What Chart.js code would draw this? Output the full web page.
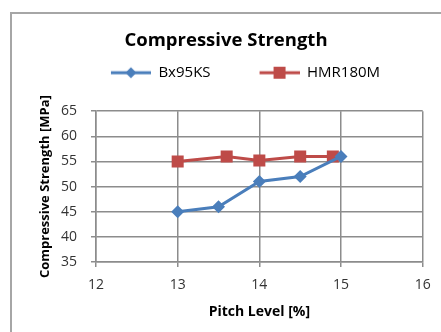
<!DOCTYPE html>
<html>
<head>
<meta charset="utf-8">
<script src="https://cdn.jsdelivr.net/npm/chart.js@4.4.1/dist/chart.umd.min.js"></script>
<style>
  html, body { margin: 0; padding: 0; background: #fff; }
  #wrap { position: relative; width: 441px; height: 332px; overflow: hidden; }
  #frame { position: absolute; left: 10px; top: 12px; width: 460px; height: 360px;
           border-left: 2px solid #a6a6a6; border-top: 2px solid #a6a6a6; box-sizing: border-box; }
  canvas { position: absolute; left: 0; top: 0; }
</style>
</head>
<body>
<div id="wrap">
  <div id="frame"></div>
  <canvas id="c" width="441" height="332"></canvas>
</div>
<script>
// Pitch level [%] and compressive strength [MPa] for each binder
const bxPitch = [13, 13.5, 14, 14.5, 15];
const bxStrength = [45, 46, 51, 52, 56];
const hmrPitch = [13, 13.6, 14, 14.5, 14.9];
const hmrStrength = [55, 56, 55.2, 56, 56];
const seriesNames = ['Bx95KS', 'HMR180M'];
const xTicks = [12, 13, 14, 15, 16];
const yTicks = [35, 40, 45, 50, 55, 60, 65];

const BLUE = '#4a7ebb';
const RED = '#be4b48';
const FONT = "'Open Sans', 'DejaVu Sans', sans-serif";
const SW_LEAD = 39;   // blank space in front of each legend swatch (spaces the two entries)
const SW_LINE = 40;   // length of the legend line

function pairs(xs, ys) { return xs.map((x, i) => ({ x: x, y: ys[i] })); }

// legend swatch: a short line with the series marker in its middle
function swatch(color, shape) {
  const cv = document.createElement('canvas');
  cv.width = SW_LEAD + SW_LINE; cv.height = 14;
  const g = cv.getContext('2d');
  const x0 = SW_LEAD, cx = SW_LEAD + SW_LINE / 2;
  g.strokeStyle = color; g.lineWidth = 3;
  g.beginPath(); g.moveTo(x0, 7); g.lineTo(x0 + SW_LINE, 7); g.stroke();
  g.fillStyle = color;
  if (shape === 'diamond') {
    g.beginPath(); g.moveTo(cx, 1.5); g.lineTo(cx + 5.5, 7); g.lineTo(cx, 12.5); g.lineTo(cx - 5.5, 7); g.closePath(); g.fill();
  } else {
    g.fillRect(cx - 6, 1, 12, 12);
  }
  return cv;
}
const swatches = [swatch(BLUE, 'diamond'), swatch(RED, 'square')];

new Chart(document.getElementById('c'), {
  type: 'scatter',
  data: {
    datasets: [
      { label: seriesNames[0], data: pairs(bxPitch, bxStrength), showLine: true,
        borderColor: BLUE, backgroundColor: BLUE, borderWidth: 3,
        pointStyle: 'rectRot', pointRadius: 6.5, pointHoverRadius: 6.5, pointBorderWidth: 0 },
      { label: seriesNames[1], data: pairs(hmrPitch, hmrStrength), showLine: true,
        borderColor: RED, backgroundColor: RED, borderWidth: 3,
        pointStyle: 'rect', pointRadius: 8.5, pointHoverRadius: 8.5, pointBorderWidth: 0 }
    ]
  },
  options: {
    responsive: false,
    animation: false,
    layout: { padding: { top: 0, right: 18.3, bottom: 0, left: 29.3 } },
    plugins: {
      title: {
        display: true, text: 'Compressive Strength', color: '#000',
        font: { family: FONT, size: 18.5, weight: 'bold' },
        padding: { top: 30, bottom: 3 }
      },
      legend: {
        display: true, position: 'top',
        labels: {
          color: '#000', font: { family: FONT, size: 15 },
          usePointStyle: true, pointStyleWidth: SW_LEAD + SW_LINE, padding: 10,
          generateLabels: (chart) => chart.data.datasets.map((ds, i) => ({
            text: ds.label, pointStyle: swatches[i], fontColor: '#000',
            strokeStyle: 'transparent', fillStyle: 'transparent', lineWidth: 0, datasetIndex: i
          }))
        }
      },
      tooltip: { enabled: false }
    },
    scales: {
      x: {
        type: 'linear', min: xTicks[0], max: xTicks[xTicks.length - 1],
        afterBuildTicks: (s) => { s.ticks = xTicks.map(v => ({ value: v })); },
        ticks: { color: '#333', font: { family: FONT, size: 14 }, padding: 10 },
        grid: { color: '#8c8c8c', lineWidth: 1.5, tickLength: 5 },
        border: { color: '#8c8c8c', width: 1.5 },
        title: { display: true, text: 'Pitch Level [%]', color: '#000',
                 font: { family: FONT, size: 14, weight: 'bold' }, padding: { top: 4, bottom: 12 } },
        afterFit: (s) => { s.height = 70; }
      },
      // empty band between the legend and the plot
      gap: {
        type: 'linear', position: 'top', display: true,
        grid: { display: false, drawTicks: false }, border: { display: false },
        ticks: { display: false },
        afterFit: (s) => { s.height = 21; }
      },
      y: {
        min: yTicks[0], max: yTicks[yTicks.length - 1],
        afterBuildTicks: (s) => { s.ticks = yTicks.map(v => ({ value: v })); },
        ticks: { color: '#333', font: { family: FONT, size: 14 }, padding: 14 },
        grid: { color: '#8c8c8c', lineWidth: 1.5, tickLength: 5 },
        border: { color: '#8c8c8c', width: 1.5 },
        title: { display: true, text: 'Compressive Strength [MPa]', color: '#000',
                 font: { family: FONT, size: 13, weight: 'bold' }, padding: { top: 8, bottom: 4 } },
        afterFit: (s) => { s.width = 96 - 29.3; }
      }
    }
  }
});
</script>
</body>
</html>
